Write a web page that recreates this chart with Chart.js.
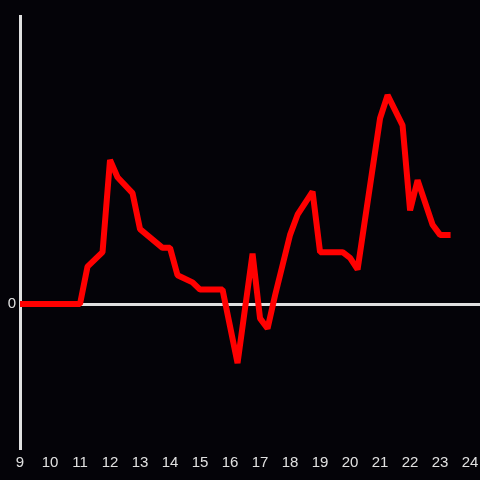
<!DOCTYPE html>
<html>
<head>
  <meta charset="UTF-8" />
  <title>Line</title>
  <script src="https://cdn.jsdelivr.net/npm/chart.js"></script>
  <style>
    html, body { margin: 0; padding: 0; background: #040308; }
    canvas { display: block; }
  </style>
</head>
<body>
  <canvas id="lineChart" width="480" height="480"></canvas>
  <script>
    // hours of day (x) and values (y)
    const hours = [9, 11, 11.25, 11.75, 12, 12.25, 12.75, 13, 13.75, 14, 14.25, 14.75, 15, 15.75,
      16.25, 16.75, 17, 17.25, 17.5, 17.75, 18, 18.25, 18.75, 19, 19.75, 20, 20.25,
      21, 21.25, 21.75, 22, 22.25, 22.75, 23, 23.25];
    const values = [0, 0, 0.26, 0.36, 1.0, 0.88, 0.77, 0.52, 0.39, 0.39, 0.2, 0.15, 0.1, 0.1,
      -0.41, 0.35, -0.1, -0.17, 0.06, 0.27, 0.48, 0.62, 0.78, 0.36, 0.36, 0.32, 0.24,
      1.29, 1.45, 1.24, 0.65, 0.86, 0.55, 0.48, 0.48];
    const xTicks = [9, 10, 11, 12, 13, 14, 15, 16, 17, 18, 19, 20, 21, 22, 23, 24];
    const yTicks = [0];

    const axisColor = '#e0e0e0';

    const ctx = document.getElementById('lineChart').getContext('2d');
    new Chart(ctx, {
      type: 'line',
      data: {
        datasets: [{
          data: hours.map((h, i) => ({ x: h, y: values[i] })),
          borderColor: '#ff0000',
          borderWidth: 6,
          borderCapStyle: 'square',
          borderJoinStyle: 'bevel',
          pointRadius: 0,
          tension: 0,
          fill: false
        }]
      },
      options: {
        responsive: false,
        animation: false,
        devicePixelRatio: 1,
        layout: { padding: { top: 16, right: 0, bottom: 0, left: 0 } },
        plugins: { legend: { display: false }, tooltip: { enabled: false } },
        scales: {
          x: {
            type: 'linear',
            min: 9,
            max: 24.33,
            afterBuildTicks: s => { s.ticks = xTicks.map(v => ({ value: v })); },
            afterFit: s => { s.height = 32; s.paddingRight = 0; s.paddingLeft = 0; },
            border: { display: false },
            grid: { display: false, drawTicks: false },
            ticks: {
              color: axisColor,
              padding: 6,
              maxRotation: 0,
              autoSkip: false,
              font: { family: 'Liberation Sans', size: 15 }
            }
          },
          y: {
            min: -1,
            max: 2,
            afterBuildTicks: s => { s.ticks = yTicks.map(v => ({ value: v })); },
            afterFit: s => { s.width = 20; },
            border: { display: true, color: axisColor, width: 3 },
            grid: {
              drawTicks: false,
              lineWidth: 3,
              color: c => (c.tick && c.tick.value === 0) ? axisColor : 'transparent'
            },
            ticks: {
              color: axisColor,
              padding: 4,
              font: { family: 'Liberation Sans', size: 15 }
            }
          }
        }
      }
    });
  </script>
</body>
</html>
